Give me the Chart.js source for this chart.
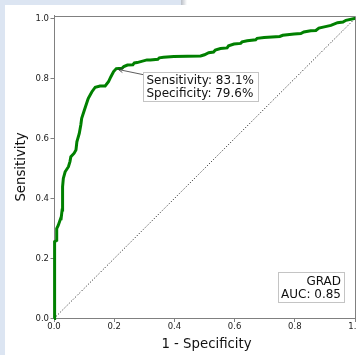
<!DOCTYPE html>
<html>
<head>
<meta charset="utf-8">
<script src="https://cdn.jsdelivr.net/npm/chart.js@4.4.0/dist/chart.umd.min.js"></script>
<style>
  html, body { margin: 0; padding: 0; width: 356px; height: 355px; overflow: hidden; background: #ffffff; }
  #wrap { position: relative; width: 356px; height: 355px; overflow: hidden; }
  #stripL { position: absolute; left: 0; top: 0; width: 5px; height: 355px; background: #dce5f2; }
  #stripT { position: absolute; left: 0; top: 0; width: 181px; height: 5px; background: #dce5f2; }
  #stripS { position: absolute; left: 181px; top: 0; width: 6px; height: 5px; background: linear-gradient(to right, #b9bec6, #ffffff); }
  canvas { position: absolute; left: 0; top: 0; }
</style>
</head>
<body>
<div id="wrap">
  <div id="stripL"></div><div id="stripT"></div><div id="stripS"></div>
  <canvas id="c" width="380" height="355"></canvas>
</div>
<script>
// ROC curve (1 - specificity, sensitivity)
const fpr = [0, 0, 0.003, 0.003, 0.009, 0.009, 0.014, 0.022, 0.023, 0.027, 0.028, 0.029, 0.031, 0.037, 0.048, 0.053, 0.056, 0.067, 0.073, 0.076, 0.084, 0.089, 0.092, 0.101, 0.112, 0.114, 0.126, 0.137, 0.153, 0.170, 0.181, 0.189, 0.198, 0.207, 0.226, 0.232, 0.244, 0.262, 0.267, 0.276, 0.309, 0.320, 0.345, 0.350, 0.364, 0.398, 0.487, 0.500, 0.514, 0.530, 0.536, 0.553, 0.575, 0.580, 0.598, 0.620, 0.625, 0.642, 0.670, 0.675, 0.698, 0.750, 0.760, 0.798, 0.820, 0.830, 0.853, 0.870, 0.880, 0.898, 0.920, 0.942, 0.960, 0.970, 0.998, 1.0];
const tpr = [0, 0.106, 0.106, 0.256, 0.260, 0.300, 0.310, 0.333, 0.328, 0.362, 0.406, 0.439, 0.467, 0.489, 0.506, 0.523, 0.539, 0.551, 0.562, 0.589, 0.617, 0.645, 0.667, 0.695, 0.728, 0.734, 0.756, 0.771, 0.775, 0.775, 0.789, 0.806, 0.823, 0.833, 0.834, 0.840, 0.845, 0.846, 0.852, 0.853, 0.862, 0.862, 0.864, 0.869, 0.871, 0.873, 0.875, 0.879, 0.886, 0.888, 0.895, 0.900, 0.902, 0.909, 0.915, 0.917, 0.922, 0.926, 0.929, 0.934, 0.937, 0.940, 0.944, 0.948, 0.950, 0.955, 0.959, 0.960, 0.968, 0.972, 0.977, 0.986, 0.988, 0.994, 1.0, 1.0];
const chancePoints = [[0, 0], [1, 1]];
const opPoint = [0.204, 0.831];
const opLabel = ["Sensitivity: 83.1%", "Specificity: 79.6%"];
const legendLines = ["GRAD", "AUC: 0.85"];
const xTicks = [0, 0.2, 0.4, 0.6, 0.8, 1.0];
const yTicks = [0, 0.2, 0.4, 0.6, 0.8, 1.0];
const xTitle = "1 - Specificity";
const yTitle = "Sensitivity";

const FONT = "'DejaVu Sans', sans-serif";
const axisGray = '#808080';

const overlay = {
  id: 'overlay',
  afterDraw(chart) {
    const ctx = chart.ctx;
    const a = chart.chartArea;
    const xs = chart.scales.x, ys = chart.scales.y;
    ctx.save();
    // spines top/right
    ctx.strokeStyle = axisGray;
    ctx.lineWidth = 1;
    ctx.beginPath();
    ctx.moveTo(Math.round(a.left) + 0.5, Math.round(a.top) + 0.5);
    ctx.lineTo(Math.round(a.right) + 0.5, Math.round(a.top) + 0.5);
    ctx.lineTo(Math.round(a.right) + 0.5, Math.round(a.bottom) + 0.5);
    ctx.stroke();

    // annotation
    const px = xs.getPixelForValue(opPoint[0]);
    const py = ys.getPixelForValue(opPoint[1]);
    const bx = px + 28, by = py + 2.5, bw = 114.5, bh = 28.5;
    ctx.strokeStyle = '#333333';
    ctx.lineWidth = 0.8;
    const ex = bx, ey = by + 3;
    const sx = px + 3, sy = py + 0.3;
    ctx.beginPath();
    ctx.moveTo(ex, ey); ctx.lineTo(sx, sy); ctx.stroke();
    const ang = Math.atan2(ey - sy, ex - sx);
    ctx.beginPath();
    ctx.moveTo(sx + 5 * Math.cos(ang + 0.45), sy + 5 * Math.sin(ang + 0.45));
    ctx.lineTo(sx, sy);
    ctx.lineTo(sx + 5 * Math.cos(ang - 0.45), sy + 5 * Math.sin(ang - 0.45));
    ctx.stroke();
    ctx.fillStyle = '#ffffff';
    ctx.fillRect(bx, by, bw, bh);
    ctx.strokeStyle = '#c4c4c4';
    ctx.lineWidth = 1;
    ctx.strokeRect(Math.round(bx) + 0.5, Math.round(by) + 0.5, Math.round(bw), Math.round(bh));
    ctx.fillStyle = '#111111';
    ctx.font = '12px ' + FONT;
    ctx.textAlign = 'left';
    ctx.textBaseline = 'alphabetic';
    ctx.fillText(opLabel[0], bx + 3, by + 11.8);
    ctx.fillText(opLabel[1], bx + 3, by + 25.2);

    // legend box
    const lx = 278, ly = 272, lw = 66, lh = 30;
    ctx.fillStyle = '#ffffff';
    ctx.fillRect(lx, ly, lw, lh);
    ctx.strokeStyle = '#c4c4c4';
    ctx.strokeRect(lx + 0.5, ly + 0.5, lw, lh);
    ctx.fillStyle = '#111111';
    ctx.textAlign = 'right';
    ctx.fillText(legendLines[0], lx + lw - 3, ly + 12.5);
    ctx.fillText(legendLines[1], lx + lw - 3, ly + 26);

    // axis titles
    ctx.font = '13.3px ' + FONT;
    ctx.fillStyle = '#111111';
    ctx.textAlign = 'center';
    ctx.fillText(xTitle, (a.left + a.right) / 2 + 2, 348);
    ctx.save();
    ctx.translate(24.5, (a.top + a.bottom) / 2);
    ctx.rotate(-Math.PI / 2);
    ctx.fillText(yTitle, 0, 0);
    ctx.restore();
    ctx.restore();
  }
};

new Chart(document.getElementById('c'), {
  type: 'line',
  data: {
    datasets: [
      {
        data: fpr.map((v, i) => ({ x: v, y: tpr[i] })),
        borderColor: '#008000',
        borderWidth: 3,
        pointRadius: 0,
        tension: 0,
        fill: false,
        clip: 2,
        order: 1
      },
      {
        data: chancePoints.map(p => ({ x: p[0], y: p[1] })),
        borderColor: '#111111',
        borderWidth: 1,
        borderDash: [1, 2],
        pointRadius: 0,
        fill: false,
        order: 2
      }
    ]
  },
  options: {
    responsive: false,
    animation: false,
    events: [],
    layout: { padding: { left: 0, right: 25, top: 15.5, bottom: 0 } },
    plugins: { legend: { display: false }, tooltip: { enabled: false } },
    scales: {
      x: {
        type: 'linear', min: 0, max: 1.0,
        afterBuildTicks(s) { s.ticks = xTicks.map(v => ({ value: v })); },
        afterFit(s) { s.height = 36.5; s.paddingLeft = 0; s.paddingRight = 0; },
        grid: { display: true, drawOnChartArea: false, drawTicks: true, tickLength: 3.5, color: axisGray, lineWidth: 1 },
        border: { display: true, color: axisGray, width: 1 },
        ticks: {
          font: { family: FONT, size: 8.5 }, color: '#222222', padding: 0,
          maxRotation: 0, autoSkip: false,
          callback: v => v.toFixed(1)
        }
      },
      y: {
        type: 'linear', min: 0, max: 1.01,
        afterBuildTicks(s) { s.ticks = yTicks.map(v => ({ value: v })); },
        afterFit(s) { s.width = 54; s.paddingTop = 0; s.paddingBottom = 0; },
        grid: { display: true, drawOnChartArea: false, drawTicks: true, tickLength: 3.5, color: axisGray, lineWidth: 1 },
        border: { display: true, color: axisGray, width: 1 },
        ticks: {
          font: { family: FONT, size: 8.5 }, color: '#222222', padding: 1.5,
          autoSkip: false,
          callback: v => v.toFixed(1)
        }
      }
    }
  },
  plugins: [overlay]
});
</script>
</body>
</html>
